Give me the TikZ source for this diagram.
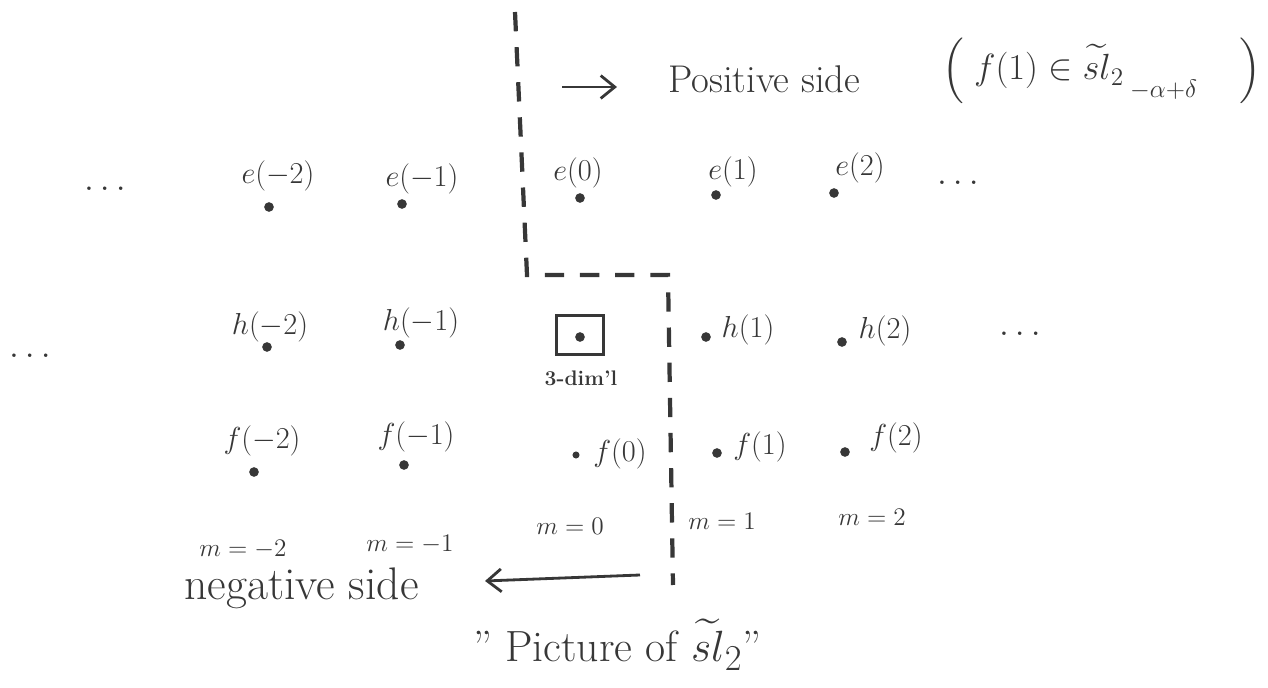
\documentclass[tikz,border=0pt]{standalone}
\usepackage{amsmath,amssymb}
\usetikzlibrary{arrows.meta}
\definecolor{ink}{RGB}{55,55,55}

\begin{document}
\begin{tikzpicture}[x=0.02cm, y=-0.02cm,
				>={Straight Barb[length=8pt,width=13pt]},   %Pfeilspitzen
				dot/.style={circle, fill=ink, inner sep=0pt, minimum size=5.5pt},
				lbl/.style={font=\LARGE, text=ink, inner sep=1pt},
				mlbl/.style={font=\Large, text=ink},
				punkte/.style={font=\huge, text=ink, inner sep=1pt},
				cutline/.style={ink, line width=2.4pt, dash pattern=on 11pt off 9pt},
				pfeil/.style={->, ink, line width=1.6pt}]
				\useasboundingbox (0,0) rectangle (1268,688);
				% Trennlinie
				\coordinate (oben) at (515,12);
				\coordinate (knick1) at (527,275);
				\coordinate (knick2) at (668,275);
				\coordinate (unten) at (673,585);
				\draw[cutline] (oben) -- (knick1) -- (knick2) -- (unten);
				% Punkte zeichnen
				\foreach \n/\x/\y in {em2/269/207, em1/402/204, e0/580/198, e1/716/195, e2/834/193,
					hm2/267/347, hm1/400/345, h0/580/337, h1/706/337, h2/842/342,
					fm2/254/472, fm1/404/465, f1/717/453, f2/845/452}
					\node[dot] (\n) at (\x,\y) {};
				\node[dot, minimum size=4pt] (f0) at (576,455) {};
				% Kasten um h(0)
				\node[draw=ink, line width=1.8pt, minimum width=26.5pt, minimum height=22.5pt, inner sep=0pt] (kasten) at (580,335) {};
				\node[font=\large\bfseries, text=ink] (dim) at (581,378) {3-dim'l};
				% Beschriftung e
				\node[lbl] (lem2) at (278,176) {$e(-2)$};
				\node[lbl] (lem1) at (422,179) {$e(-1)$};
				\node[lbl] (le0) at (578,173) {$e(0)$};
				\node[lbl] (le1) at (733,172) {$e(1)$};
				\node[lbl] (le2) at (860,168) {$e(2)$};
				% Beschriftung h
				\node[lbl] (lhm2) at (270,327) {$h(-2)$};
				\node[lbl] (lhm1) at (421,323) {$h(-1)$};
				\node[lbl] (lh1) at (748,330) {$h(1)$};
				\node[lbl] (lh2) at (885,331) {$h(2)$};
				% Beschriftung f
				\node[lbl] (lfm2) at (262,441) {$f(-2)$};
				\node[lbl] (lfm1) at (416,437) {$f(-1)$};
				\node[lbl] (lf0) at (620,454) {$f(0)$};
				\node[lbl] (lf1) at (760,447) {$f(1)$};
				\node[lbl] (lf2) at (896,438) {$f(2)$};
				% Punkte ...
				\node[punkte] (elinks) at (105,189) {$\ldots$};
				\node[punkte] (erechts) at (958,183) {$\ldots$};
				\node[punkte] (hlinks) at (30,356) {$\ldots$};
				\node[punkte] (hrechts) at (1020,334) {$\ldots$};
				% Werte von m
				\foreach \n/\x/\y/\m in {mm2/243/549/-2, mm1/410/544/-1, m0/570/526/0, m1/722/521/1, m2/872/517/2}
					\node[mlbl] (\n) at (\x,\y) {$m=\m$};
				% positive Seite
				\coordinate (pa) at (562,87);
				\coordinate (pb) at (617,87);
				\draw[pfeil] (pa) -- (pb);
				\node[anchor=base west, font=\fontsize{22}{26}\selectfont, text=ink] (pos) at (662,93) {Positive side};
				\node[anchor=base west, font=\huge, text=ink] (bed) at (936,80)
					{$\Bigl(\; f(1)\in\widetilde{sl}_2\,\raisebox{-1.1ex}{$\scriptstyle -\alpha+\delta$}\quad\,\Bigr)$};
				% negative Seite
				\coordinate (na) at (640,575);
				\coordinate (nb) at (485,581);
				\draw[pfeil] (na) -- (nb);
				\node[anchor=base west, font=\fontsize{26}{30}\selectfont, text=ink] (neg) at (178,600) {negative side};
				% Titel
				\node[anchor=base west, font=\Huge, text=ink] (titel) at (467,662) {" Picture of $\widetilde{sl}_2$"};
			\end{tikzpicture}
\end{document}
